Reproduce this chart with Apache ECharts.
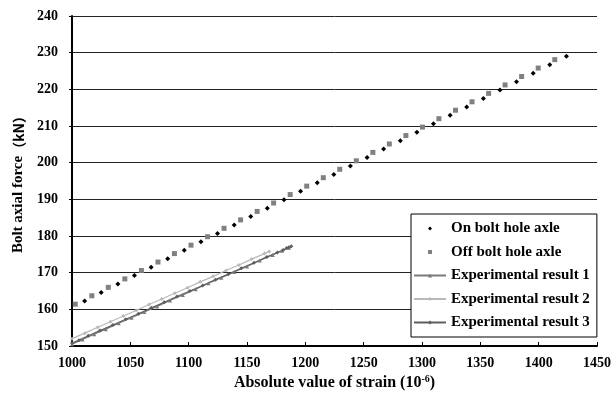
<!DOCTYPE html>
<html>
<head>
<meta charset="utf-8">
<script src="https://cdn.jsdelivr.net/npm/echarts@6/dist/echarts.min.js"></script>
<style>
  html, body { margin: 0; padding: 0; background: #fff; }
  #main { width: 616px; height: 398px; }
</style>
</head>
<body>
<div id="main"></div>
<script>
  // 数据：On bolt hole axle (黑色点)
  var onAxleX = [1010.8, 1025.0, 1039.3, 1053.5, 1067.8, 1082.0, 1096.2, 1110.5, 1124.7, 1139.0,
                 1153.2, 1167.4, 1181.7, 1195.9, 1210.2, 1224.4, 1238.6, 1252.9, 1267.1, 1281.4,
                 1295.6, 1309.8, 1324.1, 1338.3, 1352.6, 1366.8, 1381.0, 1395.3, 1409.5, 1423.8];
  var onAxleY = [162.3, 164.6, 166.9, 169.2, 171.5, 173.8, 176.1, 178.4, 180.7, 183.0,
                 185.3, 187.6, 189.9, 192.2, 194.5, 196.8, 199.1, 201.4, 203.7, 206.0,
                 208.3, 210.6, 212.9, 215.2, 217.5, 219.8, 222.1, 224.4, 226.7, 229.0];

  // Off bolt hole axle (灰色方块)
  var offAxleX = [1002.8, 1017.0, 1031.1, 1045.3, 1059.5, 1073.7, 1087.8, 1102.0, 1116.2, 1130.3,
                  1144.5, 1158.7, 1172.8, 1187.0, 1201.2, 1215.4, 1229.5, 1243.7, 1257.9, 1272.0,
                  1286.2, 1300.4, 1314.5, 1328.7, 1342.9, 1357.1, 1371.2, 1385.4, 1399.6, 1413.8];
  var offAxleY = [161.4, 163.7, 166.0, 168.3, 170.6, 172.9, 175.2, 177.5, 179.8, 182.1,
                  184.4, 186.7, 189.0, 191.3, 193.6, 195.9, 198.2, 200.5, 202.8, 205.1,
                  207.4, 209.7, 212.0, 214.3, 216.6, 218.9, 221.2, 223.5, 225.8, 228.1];

  // 试验结果 1
  var exp1X = [1000, 1009, 1019, 1029, 1040, 1051, 1062, 1073, 1084, 1095,
               1106, 1117, 1128, 1139, 1150, 1161, 1172, 1180, 1186];
  var exp1Y = [150.5, 151.8, 153.2, 154.6, 156.2, 157.7, 159.3, 160.8, 162.4, 163.9,
               165.5, 167.1, 168.6, 170.2, 171.7, 173.3, 174.8, 176.0, 176.8];

  // 试验结果 2
  var exp2X = [1000, 1011, 1022, 1033, 1044, 1055, 1066, 1077, 1088, 1099,
               1110, 1121, 1132, 1143, 1154, 1165, 1169];
  var exp2Y = [152.0, 153.5, 155.1, 156.6, 158.2, 159.7, 161.3, 162.8, 164.4, 165.9,
               167.5, 169.0, 170.6, 172.1, 173.7, 175.2, 175.8];

  // 试验结果 3
  var exp3X = [1000, 1006, 1014, 1024, 1035, 1046, 1057, 1068, 1079, 1090,
               1101, 1112, 1123, 1134, 1145, 1156, 1167, 1176, 1181, 1184, 1186, 1188];
  var exp3Y = [150.8, 151.6, 152.8, 154.2, 155.7, 157.3, 158.8, 160.4, 161.9, 163.5,
               165.0, 166.5, 168.1, 169.6, 171.2, 172.7, 174.3, 175.5, 176.2, 176.7, 176.9, 177.2];

  var seriesNames = ['On bolt hole axle', 'Off bolt hole axle',
                     'Experimental result 1', 'Experimental result 2', 'Experimental result 3'];

  function pairs(xs, ys) {
    var out = [];
    for (var i = 0; i < xs.length; i++) {
      out.push([xs[i], ys[i]]);
    }
    return out;
  }

  var serif = '"Liberation Serif", "DejaVu Serif", serif';

  var myChart = echarts.init(document.getElementById('main'));

  var option = {
    animation: false,
    backgroundColor: '#fff',
    grid: {
      left: 72,
      right: 19,
      top: 16,
      bottom: 52
    },
    legend: {
      orient: 'vertical',
      left: 411,
      top: 214,
      data: seriesNames,
      backgroundColor: '#fff',
      borderColor: '#000',
      borderWidth: 1,
      borderRadius: 0,
      padding: [7, 7, 7, 2],
      itemGap: 8.5,
      itemWidth: 32,
      itemHeight: 5,
      textStyle: {
        fontFamily: serif,
        fontWeight: 'bold',
        fontSize: 15,
        color: '#000'
      }
    },
    xAxis: {
      type: 'value',
      min: 1000,
      max: 1450,
      interval: 50,
      name: 'Absolute value of strain (10{sup|-6})',
      nameLocation: 'middle',
      nameGap: 27,
      nameTextStyle: {
        fontFamily: serif,
        fontWeight: 'bold',
        fontSize: 16,
        color: '#000',
        rich: {
          sup: {
            fontFamily: serif,
            fontWeight: 'bold',
            fontSize: 10,
            color: '#000',
            verticalAlign: 'top',
            padding: [0, 0, 6, 0]
          }
        }
      },
      axisLine: { lineStyle: { color: '#000', width: 2 } },
      axisTick: { inside: true, length: 4, lineStyle: { color: '#000' } },
      axisLabel: {
        margin: 10,
        fontFamily: serif,
        fontWeight: 'bold',
        fontSize: 14,
        color: '#000',
        formatter: function (v) { return String(v); }
      },
      splitLine: { show: false }
    },
    yAxis: {
      type: 'value',
      min: 150,
      max: 240,
      interval: 10,
      name: 'Bolt axial force{cjk|（kN）}',
      nameLocation: 'middle',
      nameRotate: 90,
      nameGap: 42,
      nameTextStyle: {
        fontFamily: serif,
        fontWeight: 'bold',
        fontSize: 15,
        color: '#000',
        rich: {
          cjk: {
            fontFamily: '"Noto Sans CJK SC"',
            fontWeight: 'bold',
            fontSize: 14,
            color: '#000'
          }
        }
      },
      axisLine: { show: true, lineStyle: { color: '#000', width: 2 } },
      axisTick: { show: true, length: 3, lineStyle: { color: '#000' } },
      axisLabel: {
        margin: 14,
        fontFamily: serif,
        fontWeight: 'bold',
        fontSize: 14,
        color: '#000'
      },
      splitLine: { show: true, lineStyle: { color: '#222', width: 1 } }
    },
    series: [
      {
        name: seriesNames[0],
        type: 'line',
        symbol: 'diamond',
        symbolSize: 5,
        showAllSymbol: true,
        itemStyle: { color: '#000' },
        lineStyle: { opacity: 0 },
        data: pairs(onAxleX, onAxleY)
      },
      {
        name: seriesNames[1],
        type: 'line',
        symbol: 'rect',
        symbolSize: 5,
        showAllSymbol: true,
        itemStyle: { color: '#808080' },
        lineStyle: { opacity: 0 },
        data: pairs(offAxleX, offAxleY)
      },
      {
        name: seriesNames[2],
        type: 'line',
        symbol: 'triangle',
        symbolSize: 4,
        showAllSymbol: true,
        itemStyle: { color: '#7a7a7a' },
        lineStyle: { color: '#7a7a7a', width: 1.2 },
        data: pairs(exp1X, exp1Y)
      },
      {
        name: seriesNames[3],
        type: 'line',
        symbol: 'diamond',
        symbolSize: 4,
        showAllSymbol: true,
        itemStyle: { color: '#b8b8b8' },
        lineStyle: { color: '#b8b8b8', width: 1.2 },
        data: pairs(exp2X, exp2Y)
      },
      {
        name: seriesNames[4],
        type: 'line',
        symbol: 'diamond',
        symbolSize: 4,
        showAllSymbol: true,
        itemStyle: { color: '#5e5e5e' },
        lineStyle: { color: '#5e5e5e', width: 1.2 },
        data: pairs(exp3X, exp3Y)
      }
    ]
  };

  myChart.setOption(option);
</script>
</body>
</html>
